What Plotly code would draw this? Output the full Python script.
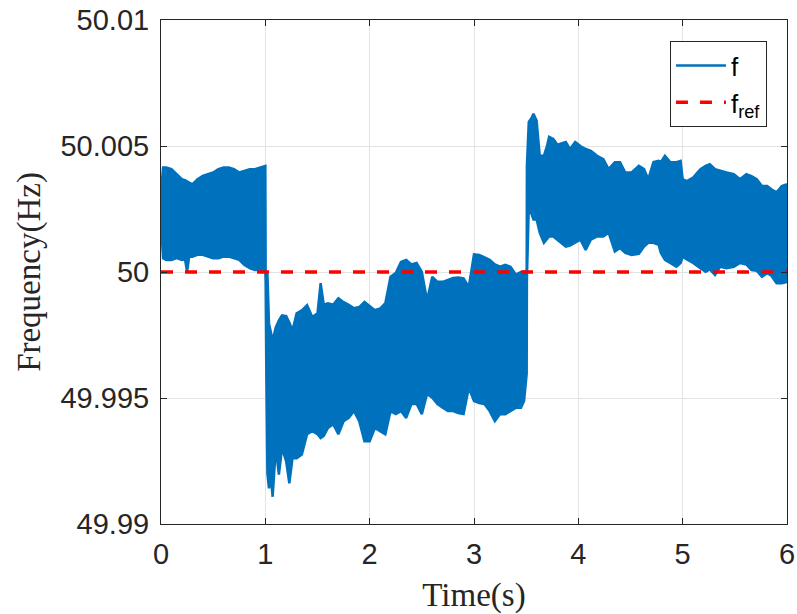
import plotly.graph_objects as go

# Time axis (s) and envelope of the measured frequency signal (Hz)
time_s = [0.00, 0.02, 0.05, 0.10, 0.15, 0.20, 0.23, 0.25, 0.27, 0.30, 0.35, 0.40, 0.45, 0.50,
          0.55, 0.60, 0.65, 0.70, 0.75, 0.80, 0.85, 0.90, 0.95, 1.00, 1.003, 1.01, 1.02, 1.035,
          1.05, 1.07, 1.10, 1.13, 1.16, 1.20, 1.23, 1.26, 1.30, 1.35, 1.40, 1.45, 1.50, 1.53,
          1.56, 1.60, 1.65, 1.70, 1.75, 1.80, 1.85, 1.90, 1.95, 2.00, 2.05, 2.10, 2.15, 2.20,
          2.25, 2.30, 2.35, 2.40, 2.45, 2.50, 2.55, 2.60, 2.65, 2.70, 2.75, 2.80, 2.85, 2.90,
          2.95, 3.00, 3.05, 3.10, 3.15, 3.20, 3.25, 3.30, 3.35, 3.40, 3.45, 3.48, 3.505, 3.507,
          3.525, 3.55, 3.57, 3.60, 3.63, 3.67, 3.70, 3.72, 3.76, 3.80, 3.85, 3.88, 3.92, 3.97,
          4.02, 4.07, 4.12, 4.18, 4.24, 4.29, 4.35, 4.40, 4.45, 4.51, 4.58, 4.63, 4.67, 4.72,
          4.77, 4.79, 4.83, 4.88, 4.94, 4.98, 5.00, 5.04, 5.10, 5.17, 5.22, 5.26, 5.31, 5.36,
          5.42, 5.49, 5.55, 5.61, 5.66, 5.71, 5.76, 5.81, 5.85, 5.90, 5.95, 6.00]

f_upper = [50.00316, 50.00415, 50.00415, 50.00408, 50.00388, 50.00368, 50.00364, 50.00361, 50.00355,
           50.00348, 50.00368, 50.00381, 50.00388, 50.00395, 50.00408, 50.00415, 50.00415, 50.00408,
           50.00395, 50.00401, 50.00408, 50.00408, 50.00415, 50.00421, 50.00000, 49.99996, 49.99990,
           49.99796, 49.99770, 49.99728, 49.99780, 49.99808, 49.99828, 49.99825, 49.99800, 49.99768,
           49.99836, 49.99848, 49.99868, 49.99821, 49.99836, 49.99956, 49.99870, 49.99876, 49.99870,
           49.99896, 49.99880, 49.99870, 49.99856, 49.99861, 49.99881, 49.99865, 49.99848, 49.99855,
           49.99876, 49.99981, 49.99996, 50.00040, 50.00048, 50.00030, 50.00036, 50.00000, 49.99888,
           49.99981, 49.99961, 49.99961, 49.99970, 49.99976, 49.99978, 49.99975, 49.99941, 50.00070,
           50.00068, 50.00058, 50.00048, 50.00030, 50.00021, 50.00028, 50.00021, 49.99990, 50.00000,
           50.00001, 50.00005, 50.00421, 50.00596, 50.00610, 50.00628, 50.00601, 50.00461, 50.00461,
           50.00500, 50.00536, 50.00528, 50.00505, 50.00510, 50.00516, 50.00488, 50.00516, 50.00500,
           50.00488, 50.00481, 50.00461, 50.00448, 50.00408, 50.00436, 50.00436, 50.00395, 50.00395,
           50.00421, 50.00408, 50.00368, 50.00436, 50.00441, 50.00436, 50.00461, 50.00436, 50.00436,
           50.00441, 50.00368, 50.00361, 50.00375, 50.00408, 50.00421, 50.00428, 50.00408, 50.00401,
           50.00395, 50.00388, 50.00368, 50.00388, 50.00380, 50.00368, 50.00341, 50.00341, 50.00328,
           50.00316, 50.00341, 50.00348]

f_lower = [50.00188, 50.00055, 50.00048, 50.00048, 50.00055, 50.00048, 50.00050, 50.00001, 50.00061,
           50.00061, 50.00068, 50.00068, 50.00061, 50.00055, 50.00055, 50.00061, 50.00061, 50.00055,
           50.00048, 50.00028, 50.00015, 50.00008, 50.00008, 50.00001, 49.99960, 49.99570, 49.99200,
           49.99141, 49.99200, 49.99108, 49.99301, 49.99196, 49.99301, 49.99248, 49.99161, 49.99261,
           49.99261, 49.99276, 49.99356, 49.99368, 49.99356, 49.99341, 49.99350, 49.99381, 49.99396,
           49.99356, 49.99408, 49.99421, 49.99448, 49.99408, 49.99328, 49.99328, 49.99381, 49.99368,
           49.99356, 49.99448, 49.99436, 49.99448, 49.99421, 49.99476, 49.99476, 49.99436, 49.99516,
           49.99501, 49.99476, 49.99461, 49.99448, 49.99448, 49.99440, 49.99436, 49.99541, 49.99488,
           49.99480, 49.99476, 49.99448, 49.99408, 49.99436, 49.99436, 49.99450, 49.99461, 49.99461,
           49.99488, 49.99596, 49.99970, 50.00261, 50.00230, 50.00208, 50.00208, 50.00156, 50.00116,
           50.00130, 50.00141, 50.00141, 50.00128, 50.00110, 50.00101, 50.00105, 50.00116, 50.00128,
           50.00088, 50.00128, 50.00141, 50.00141, 50.00156, 50.00081, 50.00095, 50.00076, 50.00068,
           50.00072, 50.00101, 50.00116, 50.00116, 50.00108, 50.00076, 50.00048, 50.00036, 50.00021,
           50.00036, 50.00061, 50.00050, 50.00036, 50.00015, 50.00001, 50.00010, 49.99988, 50.00021,
           50.00015, 50.00021, 50.00036, 50.00030, 50.00008, 50.00005, 49.99981, 49.99995, 49.99985,
           49.99955, 49.99955, 49.99960]

f_ref_value = 50.0
x_ticks = [0, 1, 2, 3, 4, 5, 6]
y_ticks = [49.99, 49.995, 50.0, 50.005, 50.01]
y_tick_labels = ["49.99", "49.995", "50", "50.005", "50.01"]

blue = "#0072BD"
red = "#FF0000"

fig = go.Figure()
# upper envelope (legend line for f)
fig.add_trace(go.Scatter(x=time_s, y=f_upper, mode="lines", name="f",
                         line=dict(color=blue, width=2.5)))
# lower envelope, filled up to upper -> dense oscillation band
fig.add_trace(go.Scatter(x=time_s, y=f_lower, mode="lines", name="f_low",
                         line=dict(color=blue, width=2.5), fill="tonexty",
                         fillcolor=blue, showlegend=False))
fig.add_trace(go.Scatter(x=[time_s[0], time_s[-1]], y=[f_ref_value, f_ref_value],
                         mode="lines", name="f<sub>ref</sub>",
                         line=dict(color=red, width=3.5, dash="12px,12px")))

tick_font = dict(family="Liberation Sans, Arial, sans-serif", size=29, color="#262626")
title_font = dict(family="Liberation Serif, serif", size=33, color="#262626")

axis_common = dict(showline=True, linecolor="#262626", linewidth=1, mirror="ticks",
                   ticks="inside", ticklen=6, tickcolor="#262626", automargin=False,
                   ticklabeloverflow="allow",
                   showgrid=True, gridcolor="#E3E3E3", gridwidth=1, zeroline=False,
                   tickfont=tick_font)

fig.update_xaxes(range=[0, 6], tickvals=x_ticks, ticklabelstandoff=4, **axis_common,
                 title=dict(text="Time(s)", standoff=20, font=title_font))
fig.update_yaxes(range=[49.99, 50.01], tickvals=y_ticks, ticktext=y_tick_labels,
                 ticklabelstandoff=5, **axis_common,
                 title=dict(text="Frequency(Hz)", standoff=9, font=title_font))

# plot area at x 161..787, y 20..524 in the 797x614 window
fig.update_layout(
    width=797, height=614,
    margin=dict(l=161, r=10, t=20, b=90),
    plot_bgcolor="white", paper_bgcolor="white",
    legend=dict(x=0.968, y=0.958, xanchor="right", yanchor="top", traceorder="normal",
                bgcolor="white", bordercolor="#262626", borderwidth=1, itemwidth=50,
                font=dict(family="Liberation Sans, Arial, sans-serif", size=26, color="black"),
                tracegroupgap=0),
    showlegend=True,
)

fig.write_html("out.html", config={"displayModeBar": False},
               post_script="document.body.style.margin='0';document.body.style.overflow='hidden';")
